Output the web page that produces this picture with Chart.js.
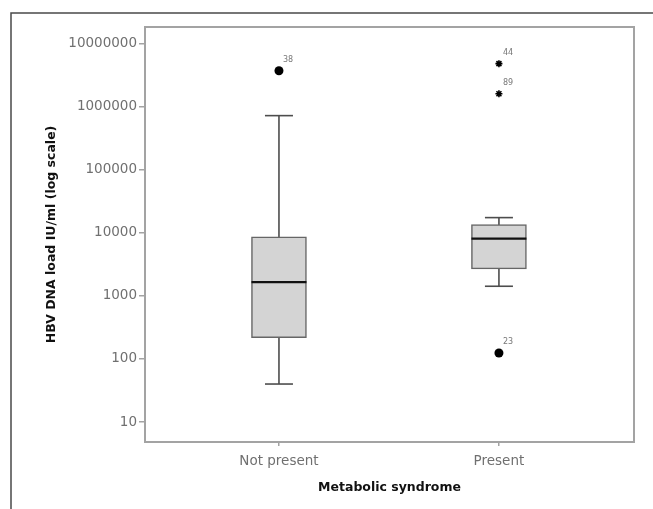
<!DOCTYPE html>
<html>
<head>
<meta charset="utf-8">
<script src="https://cdn.jsdelivr.net/npm/chart.js@4.4.1/dist/chart.umd.min.js"></script>
<style>
  html, body { margin: 0; padding: 0; background: #fff; }
  #wrap { position: relative; width: 653px; height: 509px; }
</style>
</head>
<body>
<div id="wrap"><canvas id="grafico"></canvas></div>
<script>
// datos (escala log)
const categorias = ['Not present', 'Present'];
const bigoteInf = [40, 1420];
const cuartil1 = [218, 2670];
const mediana = [1650, 8100];
const cuartil3 = [8600, 13500];
const bigoteSup = [720000, 17400];

// valores atípicos: círculo y estrella
const circuloCat = [0, 1];
const circuloVal = [3700000, 124];
const circuloId = ['38', '23'];
const estrellaCat = [1, 1];
const estrellaVal = [4800000, 1600000];
const estrellaId = ['44', '89'];

const ticksY = [10, 100, 1000, 10000, 100000, 1000000, 10000000];

const GRIS_EJE = '#a3a3a3';

// marco exterior + marco del área del gráfico + etiquetas de atípicos
const marcoPlugin = {
    id: 'marco',
    beforeDraw(chart) {
        const ctx = chart.ctx;
        ctx.save();
        ctx.strokeStyle = '#4a4a4a';
        ctx.lineWidth = 1.5;
        ctx.beginPath();
        ctx.moveTo(11, 509);
        ctx.lineTo(11, 13);
        ctx.lineTo(653, 13);
        ctx.stroke();
        ctx.restore();
    },
    beforeDatasetsDraw(chart) {
        const { ctx, chartArea: a } = chart;
        ctx.save();
        ctx.strokeStyle = GRIS_EJE;
        ctx.lineWidth = 2;
        ctx.strokeRect(a.left, a.top, a.right - a.left, a.bottom - a.top);
        ctx.restore();
    },
    afterDatasetsDraw(chart) {
        const { ctx, scales } = chart;
        ctx.save();
        ctx.font = '8px "DejaVu Sans"';
        ctx.fillStyle = '#777';
        ctx.textAlign = 'left';
        ctx.textBaseline = 'middle';
        const poner = (cats, vals, ids) => {
            cats.forEach((c, i) => {
                const px = scales.x.getPixelForValue(c);
                const py = scales.y.getPixelForValue(vals[i]);
                ctx.fillText(ids[i], px + 4, py - 11);
            });
        };
        poner(circuloCat, circuloVal, circuloId);
        poner(estrellaCat, estrellaVal, estrellaId);
        ctx.restore();
    }
};

const ctx = document.getElementById('grafico').getContext('2d');

const datasets = [
    // medianas (encima de todo)
    {
        type: 'scatter',
        data: categorias.map((c, i) => ({ x: i, y: mediana[i] })),
        pointStyle: 'line',
        pointRadius: 27.5,
        borderColor: '#111',
        borderWidth: 2.2
    },
    // remates de los bigotes
    {
        type: 'scatter',
        data: categorias.flatMap((c, i) => [{ x: i, y: bigoteInf[i] }, { x: i, y: bigoteSup[i] }]),
        pointStyle: 'line',
        pointRadius: 14,
        borderColor: '#4d4d4d',
        borderWidth: 1.6
    },
    // atípicos (círculo)
    {
        type: 'scatter',
        data: circuloCat.map((c, i) => ({ x: c, y: circuloVal[i] })),
        pointStyle: 'circle',
        pointRadius: 4.5,
        backgroundColor: '#000',
        borderColor: '#000',
        borderWidth: 0
    },
    // extremos (estrella)
    {
        type: 'scatter',
        data: estrellaCat.map((c, i) => ({ x: c, y: estrellaVal[i] })),
        pointStyle: 'star',
        pointRadius: 3.5,
        borderColor: '#000',
        borderWidth: 1.6
    },
    // cajas
    {
        type: 'bar',
        data: categorias.map((c, i) => ({ x: i, y: [cuartil1[i], cuartil3[i]] })),
        backgroundColor: '#d4d4d4',
        borderColor: '#666',
        borderWidth: 1.5,
        borderSkipped: false,
        barThickness: 55
    }
];

// bigotes (línea vertical de mínimo a máximo, la caja la tapa)
categorias.forEach((c, i) => {
    datasets.push({
        type: 'line',
        data: [{ x: i, y: bigoteInf[i] }, { x: i, y: bigoteSup[i] }],
        borderColor: '#4d4d4d',
        borderWidth: 1.6,
        pointRadius: 0
    });
});

new Chart(ctx, {
    type: 'bar',
    data: { datasets },
    options: {
        responsive: true,
        maintainAspectRatio: false,
        animation: false,
        layout: { autoPadding: false, padding: { top: 27, right: 19, left: 0, bottom: 0 } },
        plugins: {
            legend: { display: false },
            tooltip: { enabled: false }
        },
        scales: {
            x: {
                type: 'linear',
                offset: false,
                min: -0.609,
                max: 1.614,
                afterBuildTicks: (scale) => {
                    scale.ticks = categorias.map((c, i) => ({ value: i }));
                },
                afterFit: (scale) => { scale.height = 67; },
                ticks: {
                    callback: (v) => categorias[v] ?? '',
                    font: { family: 'DejaVu Sans', size: 13.5 },
                    color: '#707070',
                    padding: 7,
                    maxRotation: 0
                },
                grid: { offset: false, drawOnChartArea: false, tickLength: 4, color: GRIS_EJE, lineWidth: 1.5 },
                border: { display: false },
                title: {
                    display: true,
                    text: 'Metabolic syndrome',
                    font: { family: 'DejaVu Sans', size: 12.5, weight: 'bold' },
                    color: '#111',
                    padding: { top: 0, bottom: 14 }
                }
            },
            y: {
                type: 'logarithmic',
                min: 4.82,
                max: 18300000,
                afterBuildTicks: (scale) => {
                    scale.ticks = ticksY.map(v => ({ value: v }));
                },
                afterFit: (scale) => { scale.width = 145; },
                ticks: {
                    callback: (v) => String(v),
                    font: { family: 'DejaVu Sans', size: 13.5 },
                    color: '#707070',
                    padding: 2
                },
                grid: { drawOnChartArea: false, tickLength: 6, color: GRIS_EJE, lineWidth: 1.5 },
                border: { display: false },
                title: {
                    display: true,
                    text: 'HBV DNA load IU/ml (log scale)',
                    font: { family: 'DejaVu Sans', size: 12.5, weight: 'bold' },
                    color: '#111',
                    padding: { top: 44, bottom: 0 }
                }
            }
        }
    },
    plugins: [marcoPlugin]
});
</script>
</body>
</html>
